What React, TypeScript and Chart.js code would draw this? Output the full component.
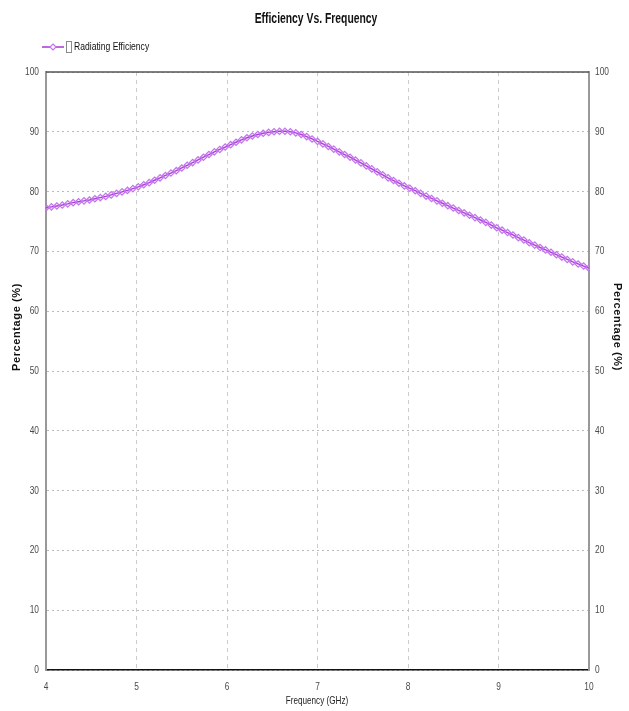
import React, { useEffect, useRef } from 'react';
import { Chart, registerables } from 'chart.js';

Chart.register(...registerables);

const CHART_TITLE = 'Efficiency Vs. Frequency';
const SERIES_NAME = 'Radiating Efficiency';
const X_TITLE = 'Frequency (GHz)';
const Y_TITLE = 'Percentage (%)';

// Sweep frequencies (GHz)
const FREQUENCY_GHZ = [
  4.0, 4.06, 4.12, 4.18, 4.24, 4.3, 4.36, 4.42, 4.48, 4.54,
  4.6, 4.66, 4.72, 4.78, 4.84, 4.9, 4.96, 5.02, 5.08, 5.14,
  5.2, 5.26, 5.32, 5.38, 5.44, 5.5, 5.56, 5.62, 5.68, 5.74,
  5.8, 5.86, 5.92, 5.98, 6.04, 6.1, 6.16, 6.22, 6.28, 6.34,
  6.4, 6.46, 6.52, 6.58, 6.64, 6.7, 6.76, 6.82, 6.88, 6.94,
  7.0, 7.06, 7.12, 7.18, 7.24, 7.3, 7.36, 7.42, 7.48, 7.54,
  7.6, 7.66, 7.72, 7.78, 7.84, 7.9, 7.96, 8.02, 8.08, 8.14,
  8.2, 8.26, 8.32, 8.38, 8.44, 8.5, 8.56, 8.62, 8.68, 8.74,
  8.8, 8.86, 8.92, 8.98, 9.04, 9.1, 9.16, 9.22, 9.28, 9.34,
  9.4, 9.46, 9.52, 9.58, 9.64, 9.7, 9.76, 9.82, 9.88, 9.94,
  10.0,
];

// Radiating efficiency (%) at each frequency
const EFFICIENCY_PCT = [
  77.3, 77.45, 77.6, 77.75, 77.95, 78.15, 78.3, 78.45, 78.6, 78.8,
  79.0, 79.2, 79.45, 79.7, 79.95, 80.2, 80.5, 80.8, 81.15, 81.5,
  81.9, 82.3, 82.7, 83.1, 83.5, 83.95, 84.4, 84.85, 85.3, 85.75,
  86.2, 86.65, 87.05, 87.45, 87.85, 88.25, 88.65, 89.0, 89.3, 89.55,
  89.75, 89.9, 90.02, 90.08, 90.08, 90.0, 89.82, 89.55, 89.2, 88.8,
  88.4, 87.98, 87.55, 87.1, 86.65, 86.2, 85.75, 85.28, 84.8, 84.3,
  83.8, 83.3, 82.8, 82.3, 81.85, 81.4, 80.95, 80.55, 80.15, 79.7,
  79.25, 78.85, 78.45, 78.05, 77.65, 77.25, 76.85, 76.45, 76.05, 75.65,
  75.25, 74.85, 74.4, 73.95, 73.55, 73.15, 72.75, 72.3, 71.9, 71.45,
  71.05, 70.65, 70.25, 69.85, 69.45, 69.05, 68.65, 68.25, 67.9, 67.55,
  67.2,
];

const X_MIN = 4;
const X_MAX = 10;
const X_STEP = 1;
const Y_MIN = 0;
const Y_MAX = 100;
const Y_STEP = 10;

const FONT = '"Liberation Sans", Arial, sans-serif';
const LINE_COLOR = '#9000cc';
const MARKER_COLOR = '#c274ec';
const TICK_COLOR = '#4a4a4a';

// Narrow-looking text: the regular face squeezed horizontally
function narrowText(
  ctx: CanvasRenderingContext2D,
  text: string,
  x: number,
  y: number,
  font: string,
  squeeze: number,
  align: CanvasTextAlign,
  color: string,
  rotation = 0,
) {
  ctx.save();
  ctx.translate(x, y);
  if (rotation) ctx.rotate(rotation);
  ctx.scale(squeeze, 1);
  ctx.font = font;
  ctx.fillStyle = color;
  ctx.textAlign = align;
  ctx.textBaseline = 'middle';
  ctx.fillText(text, 0, 0);
  ctx.restore();
}

// Title, legend, tick labels, axis titles and the frame's top edge
const decorations = {
  id: 'decorations',
  afterDraw(chart: Chart) {
    const { ctx, chartArea } = chart;
    const { left, right, top } = chartArea;
    ctx.save();

    // frame top edge
    ctx.strokeStyle = '#555555';
    ctx.lineWidth = 1.5;
    ctx.beginPath();
    ctx.moveTo(left, top);
    ctx.lineTo(right, top);
    ctx.stroke();

    // chart title
    narrowText(ctx, CHART_TITLE, 316, 19, `bold 14px ${FONT}`, 0.74, 'center', '#111111');

    // legend: line sample with marker, box, label
    const ly = 47;
    ctx.strokeStyle = LINE_COLOR;
    ctx.lineWidth = 1.2;
    ctx.beginPath();
    ctx.moveTo(42, ly);
    ctx.lineTo(64, ly);
    ctx.stroke();
    ctx.strokeStyle = MARKER_COLOR;
    ctx.fillStyle = '#ffffff';
    ctx.beginPath();
    ctx.moveTo(53, ly - 3);
    ctx.lineTo(56, ly);
    ctx.lineTo(53, ly + 3);
    ctx.lineTo(50, ly);
    ctx.closePath();
    ctx.fill();
    ctx.stroke();
    ctx.strokeStyle = '#8a8a8a';
    ctx.lineWidth = 1;
    ctx.strokeRect(66.5, 41.5, 5, 11);
    narrowText(ctx, SERIES_NAME, 74, ly, `11px ${FONT}`, 0.78, 'left', '#111111');

    // tick labels, placed by the library's scales
    const tickFont = `11px ${FONT}`;
    const ys = chart.scales.y;
    ys.ticks.forEach((t: any) => {
      const py = ys.getPixelForValue(t.value);
      narrowText(ctx, String(t.value), 39, py, tickFont, 0.76, 'right', TICK_COLOR);
      narrowText(ctx, String(t.value), 595, py, tickFont, 0.76, 'left', TICK_COLOR);
    });
    const xs = chart.scales.x;
    xs.ticks.forEach((t: any) => {
      const px = xs.getPixelForValue(t.value);
      narrowText(ctx, String(t.value), px, 687, tickFont, 0.76, 'center', TICK_COLOR);
    });

    // axis titles
    ctx.save();
    (ctx as any).letterSpacing = '0.6px';
    narrowText(ctx, Y_TITLE, 17, 327, `bold 11px ${FONT}`, 1, 'center', '#111111', -Math.PI / 2);
    narrowText(ctx, Y_TITLE, 617, 327, `bold 11px ${FONT}`, 1, 'center', '#111111', Math.PI / 2);
    ctx.restore();

    narrowText(ctx, X_TITLE, 317, 701, `11px ${FONT}`, 0.74, 'center', '#222222');

    ctx.restore();
  },
};

export default function App() {
  const canvasRef = useRef<HTMLCanvasElement | null>(null);

  useEffect(() => {
    const canvas = canvasRef.current;
    if (!canvas) return;
    const points = FREQUENCY_GHZ.map((f, i) => ({ x: f, y: EFFICIENCY_PCT[i] }));

    const chart = new Chart(canvas, {
      type: 'line',
      data: {
        datasets: [
          {
            label: SERIES_NAME,
            data: points,
            borderColor: LINE_COLOR,
            borderWidth: 1.4,
            pointStyle: 'rectRot',
            pointRadius: 3.2,
            pointBorderWidth: 1.2,
            pointBorderColor: MARKER_COLOR,
            pointBackgroundColor: 'rgba(235, 205, 250, 0.3)',
            tension: 0,
            fill: false,
          },
        ],
      },
      options: {
        responsive: false,
        animation: false,
        devicePixelRatio: 1,
        layout: { padding: { top: 72, left: 0, right: 0, bottom: 0 } },
        plugins: {
          legend: { display: false },
          title: { display: false },
          tooltip: { enabled: false },
        },
        scales: {
          x: {
            type: 'linear',
            min: X_MIN,
            max: X_MAX,
            afterFit(scale: any) {
              scale.height = 41;
            },
            ticks: { stepSize: X_STEP, display: false },
            grid: {
              color: '#cccccc',
              lineWidth: 1,
              drawTicks: false,
            },
            border: { color: '#111111', width: 1.5, dash: [4, 4] } as any,
          },
          y: {
            type: 'linear',
            position: 'left',
            min: Y_MIN,
            max: Y_MAX,
            afterFit(scale: any) {
              scale.width = 46;
            },
            ticks: { stepSize: Y_STEP, display: false },
            grid: {
              color: '#bbbbbb',
              lineWidth: 1,
              drawTicks: false,
            },
            border: { color: '#999999', width: 2, dash: [2, 3] } as any,
          },
          y2: {
            type: 'linear',
            position: 'right',
            min: Y_MIN,
            max: Y_MAX,
            afterFit(scale: any) {
              scale.width = 40;
            },
            ticks: { stepSize: Y_STEP, display: false },
            grid: { display: false, drawTicks: false },
            border: { color: '#999999', width: 2 },
          },
        },
      },
      plugins: [decorations],
    });

    return () => chart.destroy();
  }, []);

  return (
    <div style={{ position: 'absolute', left: 0, top: 0, width: 629, height: 711, background: '#ffffff' }}>
      <canvas ref={canvasRef} width={629} height={711} style={{ display: 'block' }} />
    </div>
  );
}
